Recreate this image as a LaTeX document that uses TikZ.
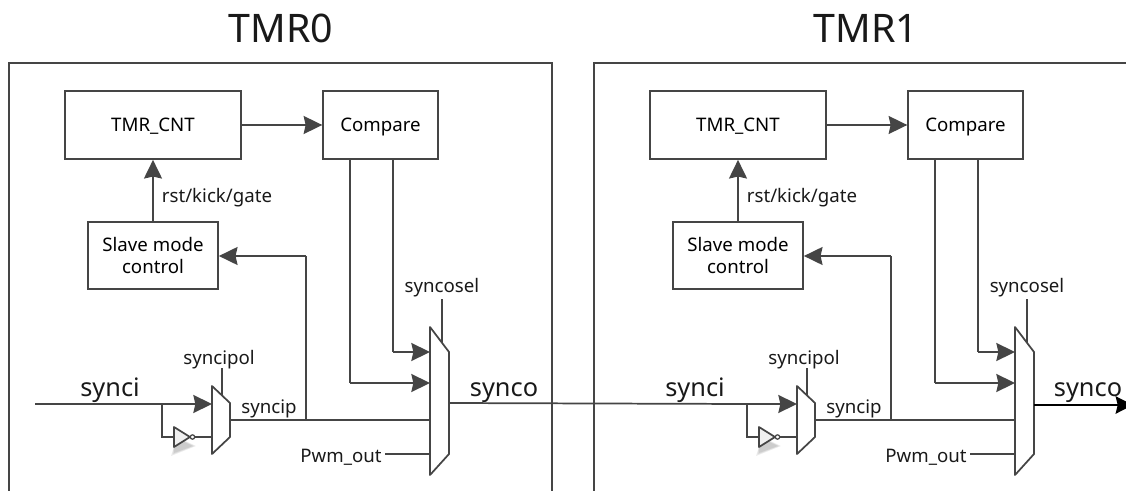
\documentclass[tikz,border=0pt]{standalone}
\usepackage{fontspec}
\setmainfont{Noto Sans}
\usetikzlibrary{arrows.meta,calc}
\definecolor{ln}{HTML}{454545}
\tikzset{
  x=0.75pt,y=-0.75pt,
  wire/.style={draw=ln,line width=1.3pt},
  arrowwire/.style={wire,-{Stealth[length=14pt,width=13.5pt,inset=1.5pt]}},
  blockbox/.style={draw=ln,line width=1.3pt,fill=white,inner sep=0pt,align=center,font=\fontsize{14}{16}\selectfont},
  oneline/.style={text height=10pt,text depth=0pt},
  lbl/.style={inner sep=0pt,anchor=base,text=black!90,font=\fontsize{14}{16}\selectfont},
  biglbl/.style={inner sep=0pt,anchor=base,text=black!90,font=\fontsize{19}{22}\selectfont},
  titlelbl/.style={inner sep=0pt,anchor=base,text=black!90,font=\fontsize{29.5}{34}\selectfont},
  muxshape/.style={draw=ln,line width=1.3pt,fill=white,line join=round},
  framewire/.style={draw=ln,line width=1.2pt},
}
\newcommand{\tmrunit}[3]{% #1 prefix, #2 x shift, #3 title
\begin{scope}[xshift=#2*0.75pt]
  \node[titlelbl] (#1title) at (281,43) {#3};
  \node[blockbox,oneline,minimum width=132pt,minimum height=51pt] (#1cnt) at (153,125) {TMR\_CNT};
  \node[blockbox,oneline,minimum width=86pt,minimum height=51pt] (#1cmp) at (380.5,125) {Compare};
  \node[blockbox,minimum width=97.5pt,minimum height=50pt] (#1slave) at (153,255.5) {Slave mode\\control};
  \node[lbl] (#1rst) at (217,203) {rst/kick/gate};
  \node[lbl] (#1pol) at (219,364) {syncipol};
  \node[lbl] (#1ipl) at (269,413) {syncip};
  \node[lbl] (#1sel) at (442,292) {syncosel};
  \node[lbl] (#1pwm) at (341,462) {Pwm\_out};
  \node[biglbl] (#1sy) at (110,396) {synci};
  % input mux corners
  \coordinate (#1a1) at (212,386);
  \coordinate (#1a2) at (230,403);
  \coordinate (#1a3) at (230,437);
  \coordinate (#1a4) at (212,454);
  % output mux corners
  \coordinate (#1b1) at (430,327);
  \coordinate (#1b2) at (449,352);
  \coordinate (#1b3) at (449,454);
  \coordinate (#1b4) at (430,475);
  % junctions
  \coordinate (#1j) at (306,420);
  \coordinate (#1jt) at (306,256);
  \coordinate (#1c1) at (350,159);
  \coordinate (#1c2) at (393,159);
  \coordinate (#1i1) at (350,383);
  \coordinate (#1i2) at (393,352);
  \coordinate (#1br) at (162,404);
  \coordinate (#1brd) at (162,437);
  \coordinate (#1pe) at (385,454);
  \coordinate (#1pt) at (222,368);
  \coordinate (#1pb) at (222,395);
  \coordinate (#1st) at (442,299);
  \coordinate (#1sb) at (442,343);
  \draw[arrowwire] (#1cnt.east) -- (#1cmp.west);
  \draw[arrowwire] (#1slave.north) -- (#1slave.north |- #1cnt.south);
  \draw[arrowwire] (#1jt) -- (#1jt -| #1slave.east);
  \draw[wire] (#1jt) -- (#1j);
  \draw[wire] (#1c1) -- (#1i1);
  \draw[wire] (#1c2) -- (#1i2);
  \draw[arrowwire] (#1i1) -- (#1i1 -| #1b1);
  \draw[arrowwire] (#1i2) -- (#1i2 -| #1b1);
  \draw[wire] (#1pe) -- (#1pe -| #1b1);
  \draw[wire] (#1st) -- (#1sb);
  \draw[wire] (#1pt) -- (#1pb);
  \draw[wire] (230,420) -- (430,420);
  \draw[arrowwire] (#1br) -- (212,404);
  \draw[wire] (#1br) -- (#1brd) -- (174,437);
  \draw[wire] (195,437) -- (212,437);
  % inverter with soft shadow
  \foreach \r in {0,1.5,3}{
    \fill[black,opacity=0.07] ($(174,432)+(\r,5)$) -- ($(193,441)+(\r,5)$) -- ($(174,450)+(-\r,\r+3)$) -- cycle;
  }
  \draw[wire,fill=black!6,line join=round] (174,427) -- (190,437) -- (174,447) -- cycle;
  \draw[draw=ln,line width=0.9pt,fill=white] (192.5,437) circle[radius=2.2];
  \draw[muxshape] (#1a1) -- (#1a2) -- (#1a3) -- (#1a4) -- cycle;
  \draw[muxshape] (#1b1) -- (#1b2) -- (#1b3) -- (#1b4) -- cycle;
\end{scope}}
\begin{document}
\begin{tikzpicture}
\useasboundingbox (0,0) rectangle (1126,491);
\clip (0,0) rectangle (1126,491);
\coordinate (f0a) at (9,491);
\coordinate (f0b) at (9,63);
\coordinate (f0c) at (552,63);
\coordinate (f0d) at (552,491);
\coordinate (f1a) at (594,491);
\coordinate (f1b) at (594,63);
\coordinate (f1c) at (1126,63);
\draw[framewire] (f0a) -- (f0b) -- (f0c) -- (f0d);
\draw[framewire] (f1a) -- (f1b) -- (f1c);
\coordinate (syncistart) at (35,404);
\coordinate (syncoout) at (449,403);
\coordinate (syncoend) at (1034,405);
\coordinate (arrowend) at (1133,405);
\tmrunit{p}{0}{TMR0}
\tmrunit{q}{585}{TMR1}
\draw[wire] (syncistart) -- (pbr);
\draw[wire] (syncoout) -- (qbr);
\draw[line width=1.7pt,-{Stealth[length=13pt,width=13pt,inset=1.5pt]}] (syncoend) -- (arrowend);
\node[biglbl] (psynco) at (504,396) {synco};
\node[biglbl] (qsynco) at (1088,396) {synco};
\end{tikzpicture}
\end{document}
